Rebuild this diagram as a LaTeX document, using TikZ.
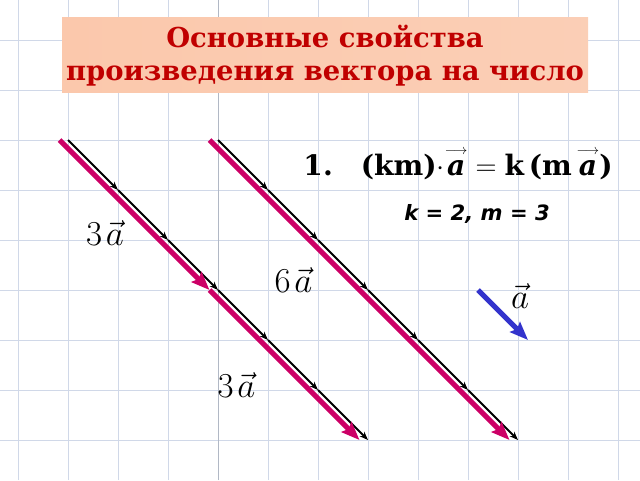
\documentclass[tikz,border=0pt]{standalone}
\usepackage[no-math]{fontspec}
\usepackage{amsmath}
\setmainfont{DejaVu Serif}
\setsansfont{DejaVu Sans}
\usepackage{tikz}
\usetikzlibrary{arrows.meta}

\definecolor{gridblue}{RGB}{208,216,232}
\definecolor{titlefill}{RGB}{251,200,172}
\definecolor{titlered}{RGB}{192,0,0}
\definecolor{vecred}{RGB}{204,0,102}
\definecolor{vecblue}{RGB}{51,51,204}

\newcommand{\arrowa}{\overset{\scriptscriptstyle\longrightarrow}{\textit{a}}}

\tikzset{
  gridline/.style={draw=gridblue, line width=0.7pt},
  blackvec/.style={line width=1.3pt, -{Stealth[length=6pt,width=4.5pt]}},
  redvec/.style={draw=vecred, line width=3.6pt, -{Stealth[length=13pt,width=10pt,inset=2pt]}},
  bluevec/.style={draw=vecblue, line width=3.6pt, -{Stealth[length=13pt,width=10pt,inset=2pt]}},
  veclabel/.style={inner sep=0pt, font=\fontsize{25}{30}\selectfont}
}

\begin{document}
\begin{tikzpicture}[x=1.25cm,y=1.25cm]
  \useasboundingbox (-0.36,-0.8) rectangle (12.44,8.8);
  % squared paper
  \draw[gridline, step=1.25cm] (-0.36,-0.8) grid (12.44,8.8);
  \draw[gridline, draw=gridblue!85!black] (4,-0.8) -- (4,8.8);
  % title
  \fill[left color=titlefill, right color=titlefill!88!white] (0.88,6.94) rectangle (11.4,8.44);
  \node[align=center, text=titlered, font=\fontsize{19.5}{23.4}\selectfont\bfseries] (title) at (6.14,7.69)
    {Основные свойства\\произведения вектора на число};
  % rule
  \node[anchor=base, font=\fontsize{20}{24}\selectfont\bfseries] (rule) at (8.8,5.3)
    {1.\quad (km)$\cdot\arrowa={}$k\,(m\,$\arrowa$)};
  \node[anchor=base, font=\sffamily\bfseries\itshape\fontsize{15}{18}\selectfont] (values) at (9.18,4.4)
    {k = 2, m = 3};
  % chains of a
  \foreach \i in {0,...,5} {
    \draw[blackvec] (1+\i,6-\i) -- (2+\i,5-\i);
    \draw[blackvec] (4+\i,6-\i) -- (5+\i,5-\i);
  }
  \draw[redvec] (0.83,6) -- (3.83,3);
  \draw[redvec] (3.83,3) -- (6.83,0);
  \draw[redvec] (3.83,6) -- (9.83,0);
  \draw[bluevec] (9.2,3) -- (10.2,2);
  % labels
  \node[veclabel, anchor=base] (three1) at (1.74,3.9) {$3\mkern2mu\vec{a}$};
  \node[veclabel, anchor=base] (six) at (5.51,2.96) {$6\mkern2mu\vec{a}$};
  \node[veclabel, anchor=base] (three2) at (4.37,0.86) {$3\mkern2mu\vec{a}$};
  \node[veclabel, anchor=base] (avec) at (10.04,2.64) {$\vec{a}$};
\end{tikzpicture}
\end{document}
